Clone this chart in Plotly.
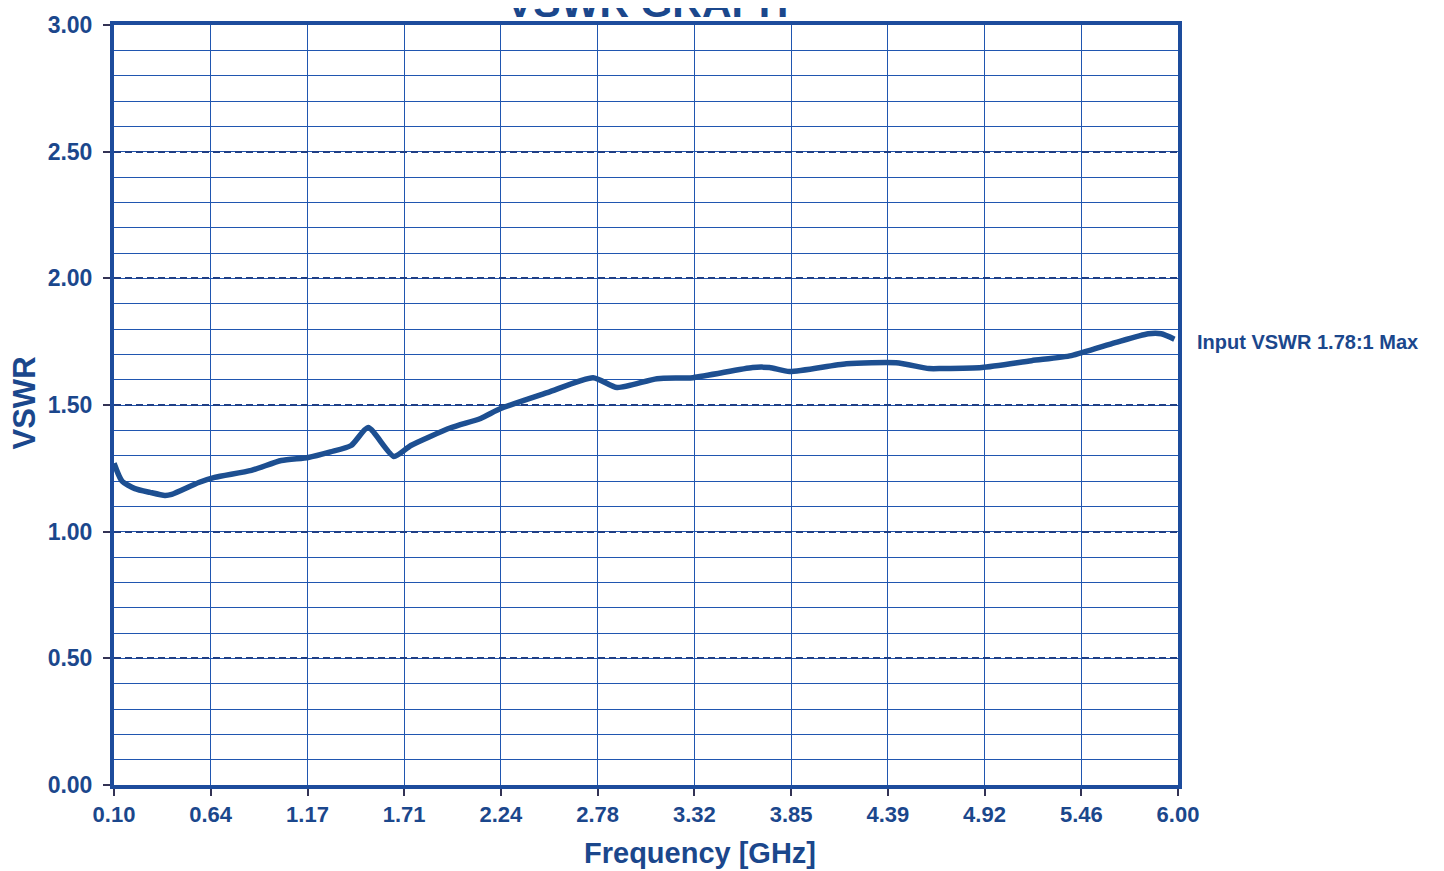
import plotly.graph_objects as go

# ---- data ----
freq_ghz = [0.10, 0.144, 0.216, 0.30, 0.382, 0.42, 0.57, 0.658, 0.862, 1.028, 1.177, 1.30,
            1.415, 1.509, 1.652, 1.746, 1.967, 2.133, 2.244, 2.503, 2.757, 2.890, 3.111,
            3.310, 3.641, 3.735, 3.846, 4.161, 4.437, 4.619, 4.691, 4.912, 5.188, 5.409,
            5.652, 5.835, 5.907, 5.98]
vswr = [1.27, 1.20, 1.17, 1.155, 1.143, 1.147, 1.194, 1.214, 1.242, 1.281, 1.293, 1.315,
        1.340, 1.411, 1.297, 1.340, 1.41, 1.447, 1.486, 1.549, 1.608, 1.569, 1.604,
        1.608, 1.648, 1.648, 1.632, 1.663, 1.667, 1.644, 1.644, 1.648, 1.675, 1.695,
        1.746, 1.781, 1.781, 1.76]

x_tick_vals = [0.10, 0.636, 1.173, 1.709, 2.245, 2.782, 3.318, 3.855, 4.391, 4.927, 5.464, 6.00]
x_tick_text = ["0.10", "0.64", "1.17", "1.71", "2.24", "2.78", "3.32", "3.85", "4.39", "4.92", "5.46", "6.00"]
y_tick_vals = [0.0, 0.5, 1.0, 1.5, 2.0, 2.5, 3.0]
y_tick_text = ["0.00", "0.50", "1.00", "1.50", "2.00", "2.50", "3.00"]

title_text = "VSWR GRAPH"
x_title = "Frequency [GHz]"
y_title = "VSWR"
note_text = "Input VSWR 1.78:1 Max"

TEXT = "#1b478c"
GRID = "#2056b0"
FRAME = "#1d4c9c"
CURVE = "#1d4f91"
FONT = "Liberation Sans"

fig = go.Figure()
fig.add_trace(go.Scatter(
    x=freq_ghz, y=vswr, mode="lines",
    line=dict(color=CURVE, width=5.5, shape="spline", smoothing=0.6),
    showlegend=False, hoverinfo="skip",
))

fig.update_layout(
    width=1444, height=871,
    margin=dict(l=106, r=274, t=17, b=94),
    paper_bgcolor="white", plot_bgcolor="white",
    font=dict(family=FONT, color=TEXT),
    showlegend=False,
)

fig.update_xaxes(
    range=[0.10, 6.00], automargin=False,
    tickmode="array", tickvals=x_tick_vals, ticktext=x_tick_text,
    tickfont=dict(family=FONT, size=22, color=TEXT, weight="bold"),
    ticks="outside", ticklen=7, tickwidth=1.5, tickcolor="#333355",
    showgrid=True, gridcolor=GRID, gridwidth=1.4,
    showline=True, linecolor=FRAME, linewidth=4, mirror=True,
    zeroline=False,
)
fig.update_yaxes(
    range=[0, 3.0], automargin=False,
    tickmode="array", tickvals=y_tick_vals, ticktext=y_tick_text,
    tickfont=dict(family=FONT, size=23, color=TEXT, weight="bold"),
    ticks="outside", ticklen=7, tickwidth=1.5, tickcolor="#333355",
    ticklabelstandoff=6,
    showgrid=True, gridcolor="#1f3f85", gridwidth=1.8, griddash="7px,4px",
    minor=dict(dtick=0.1, tick0=0, showgrid=True, gridcolor=GRID, gridwidth=1.4,
               griddash="solid", ticks=""),
    showline=True, linecolor=FRAME, linewidth=4, mirror=True,
    zeroline=False,
)

fig.add_annotation(
    text=title_text, xref="paper", yref="paper", x=0.501, y=1,
    xanchor="center", yanchor="bottom", yshift=-3, showarrow=False,
    font=dict(family=FONT, size=41, color=TEXT, weight="bold"),
)
fig.add_annotation(
    text=x_title, xref="paper", yref="paper", x=0.551, y=0,
    xanchor="center", yanchor="middle", yshift=-68, showarrow=False,
    font=dict(family=FONT, size=29, color=TEXT, weight="bold"),
)
fig.add_annotation(
    text=y_title, xref="paper", yref="paper", x=0, y=0.502,
    xanchor="center", yanchor="middle", xshift=-90, textangle=-90, showarrow=False,
    font=dict(family=FONT, size=31, color=TEXT, weight="bold"),
)
fig.add_annotation(
    text=note_text, xref="paper", yref="paper", x=1, y=(785 - 341) / 761,
    xanchor="left", yanchor="middle", xshift=17, showarrow=False,
    font=dict(family=FONT, size=20, color=TEXT, weight="bold"),
)

fig.write_html("out.html")
